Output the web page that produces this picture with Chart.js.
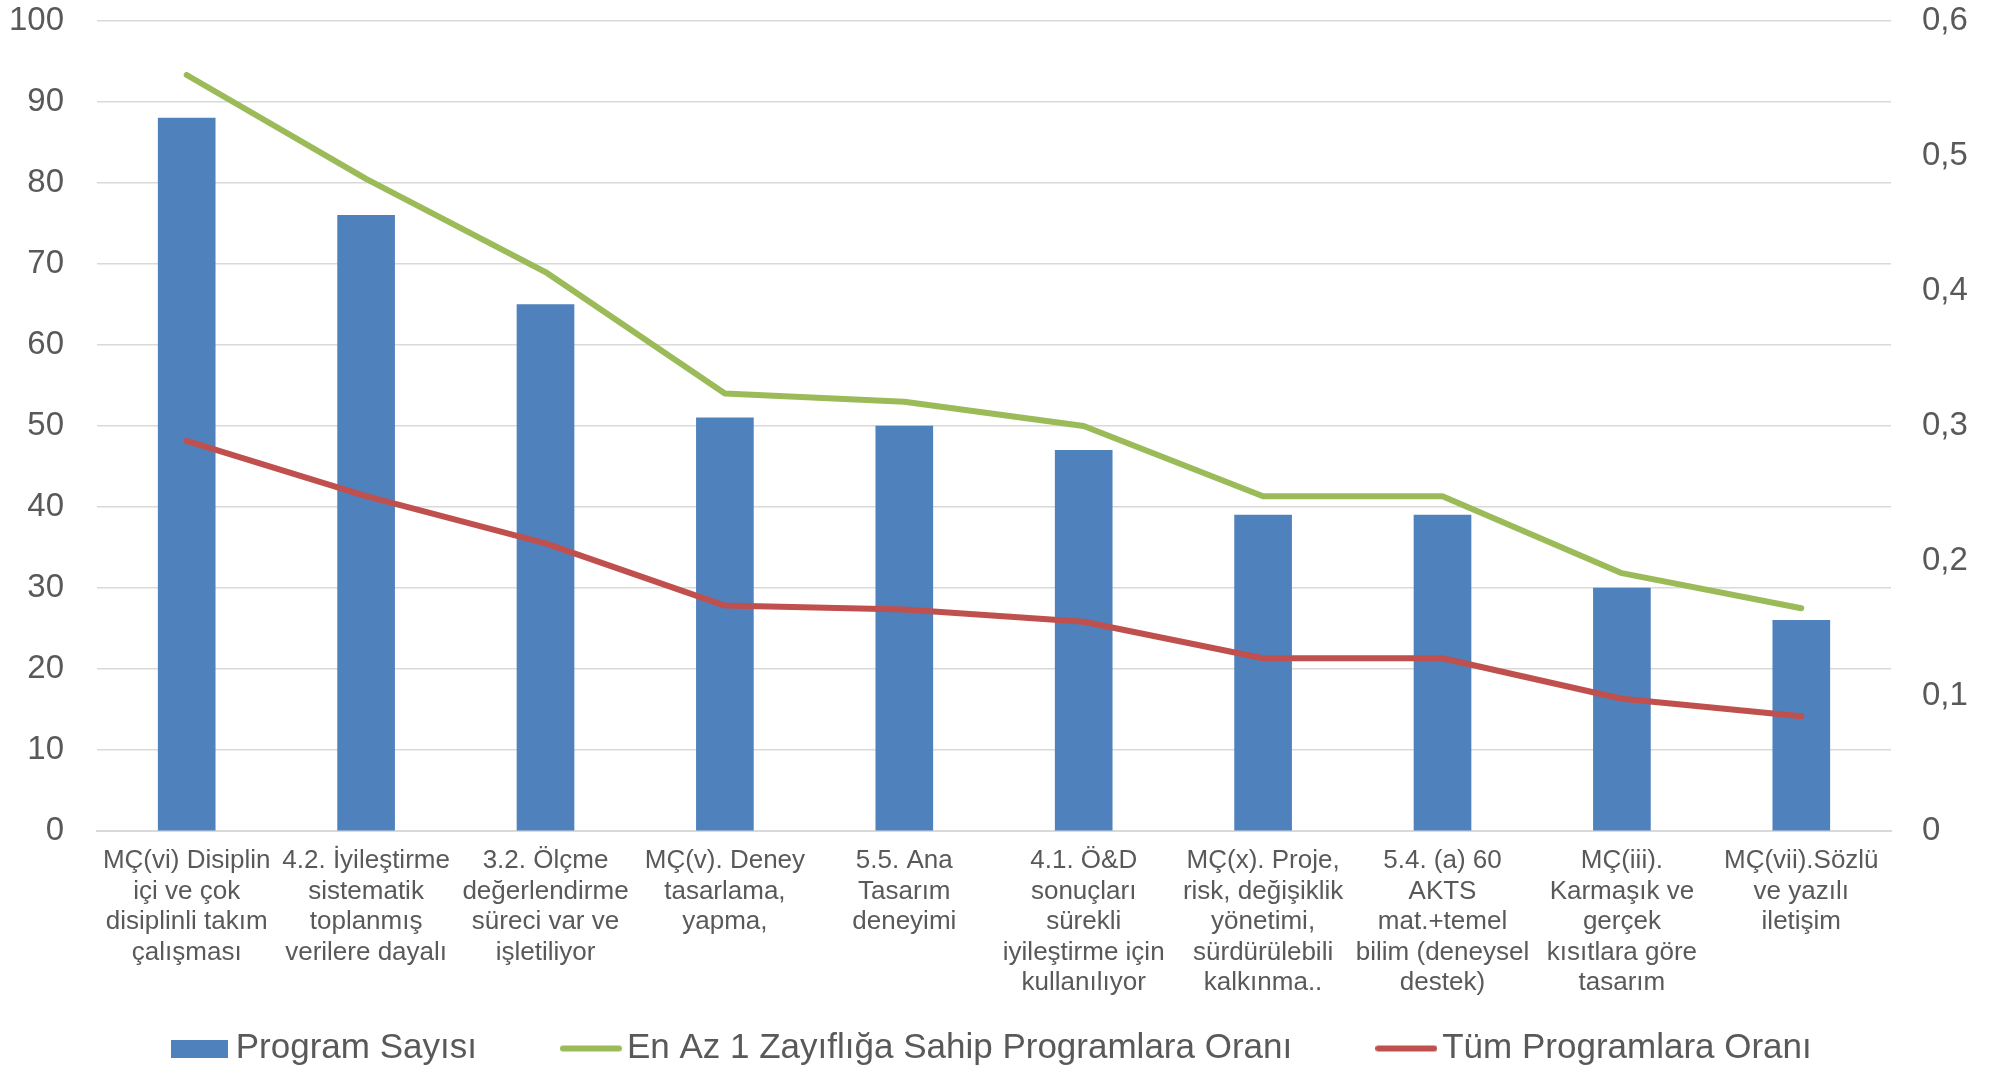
<!DOCTYPE html>
<html>
<head>
<meta charset="utf-8">
<script src="https://cdn.jsdelivr.net/npm/chart.js@4/dist/chart.umd.min.js"></script>
<style>
  html, body { margin: 0; padding: 0; background: #ffffff; }
  #wrap { width: 1993px; height: 1068px; position: relative; }
</style>
</head>
<body>
<div id="wrap"><canvas id="c" width="1993" height="1068"></canvas></div>
<script>
const categories = [
  ["MÇ(vi) Disiplin", "içi ve çok", "disiplinli takım", "çalışması"],
  ["4.2. İyileştirme", "sistematik", "toplanmış", "verilere dayalı"],
  ["3.2. Ölçme", "değerlendirme", "süreci var ve", "işletiliyor"],
  ["MÇ(v). Deney", "tasarlama,", "yapma,"],
  ["5.5. Ana", "Tasarım", "deneyimi"],
  ["4.1. Ö&D", "sonuçları", "sürekli", "iyileştirme için", "kullanılıyor"],
  ["MÇ(x). Proje,", "risk, değişiklik", "yönetimi,", "sürdürülebili", "kalkınma.."],
  ["5.4. (a) 60", "AKTS", "mat.+temel", "bilim (deneysel", "destek)"],
  ["MÇ(iii).", "Karmaşık ve", "gerçek", "kısıtlara göre", "tasarım"],
  ["MÇ(vii).Sözlü", "ve yazılı", "iletişim"]
];
const programSayisi = [88, 76, 65, 51, 50, 47, 39, 39, 30, 26];
const enAz1Orani = [0.560, 0.483, 0.414, 0.324, 0.318, 0.300, 0.248, 0.248, 0.191, 0.165];
const tumOrani = [0.289, 0.248, 0.213, 0.167, 0.164, 0.155, 0.128, 0.128, 0.098, 0.085];
const seriesNames = ["Program Sayısı", "En Az 1 Zayıflığa Sahip Programlara Oranı", "Tüm Programlara Oranı"];
const rightTickLabels = ["0", "0,1", "0,2", "0,3", "0,4", "0,5", "0,6"];

const FONT = "'Liberation Sans', Arial, sans-serif";
const TEXT = "#595959";
const GRID = "#d9d9d9";
const BLUE = '#4F81BD', GREEN = '#9BBB59', RED = '#C0504D';

// legend symbol images
function rectSymbol(color) {
  const c = document.createElement('canvas');
  c.width = 57; c.height = 18;
  const g = c.getContext('2d');
  g.fillStyle = color; g.fillRect(0, 0, 57, 18);
  return c;
}
function lineSymbol(color) {
  const c = document.createElement('canvas');
  c.width = 62; c.height = 8;
  const g = c.getContext('2d');
  g.strokeStyle = color; g.lineWidth = 6; g.lineCap = 'round';
  g.beginPath(); g.moveTo(3, 4); g.lineTo(59, 4); g.stroke();
  return c;
}

new Chart(document.getElementById('c'), {
  data: {
    labels: categories,
    datasets: [
      {
        type: 'bar',
        label: seriesNames[0],
        data: programSayisi,
        backgroundColor: BLUE,
        borderWidth: 0,
        barThickness: 57,
        yAxisID: 'y',
        order: 2
      },
      {
        type: 'line',
        label: seriesNames[1],
        data: enAz1Orani,
        borderColor: GREEN,
        backgroundColor: GREEN,
        borderWidth: 6,
        borderCapStyle: 'round',
        borderJoinStyle: 'round',
        pointRadius: 0,
        pointHoverRadius: 0,
        tension: 0,
        yAxisID: 'y1',
        order: 1
      },
      {
        type: 'line',
        label: seriesNames[2],
        data: tumOrani,
        borderColor: RED,
        backgroundColor: RED,
        borderWidth: 6,
        borderCapStyle: 'round',
        borderJoinStyle: 'round',
        pointRadius: 0,
        pointHoverRadius: 0,
        tension: 0,
        yAxisID: 'y1',
        order: 0
      }
    ]
  },
  options: {
    responsive: false,
    animation: false,
    layout: { padding: { top: 0, bottom: -8, left: 0, right: 0 } },
    plugins: {
      tooltip: { enabled: false },
      legend: {
        position: 'bottom',
        labels: {
          color: TEXT,
          font: { family: FONT, size: 35 },
          usePointStyle: true,
          pointStyleWidth: 37,
          boxHeight: 18,
          padding: 95.5,
          sort: (a, b) => a.datasetIndex - b.datasetIndex,
          generateLabels: (chart) => {
            const items = Chart.defaults.plugins.legend.labels.generateLabels(chart);
            items.forEach(it => {
              const ds = chart.data.datasets[it.datasetIndex];
              if (ds.type === 'bar') {
                it.pointStyle = rectSymbol(ds.backgroundColor);
              } else {
                it.pointStyle = lineSymbol(ds.borderColor);
              }
            });
            return items;
          }
        }
      }
    },
    scales: {
      x: {
        grid: { display: false, drawTicks: false },
        border: { display: true, color: GRID, width: 2 },
        ticks: {
          color: TEXT,
          font: { family: FONT, size: 26, lineHeight: 1.173 },
          padding: 15,
          maxRotation: 0,
          minRotation: 0,
          autoSkip: false
        },
        afterFit: (s) => {
          s.height = 104.5;
          s.paddingLeft = 0;
          s.paddingRight = 0;
          s._computeLabelArea = () => undefined;
        }
      },
      y: {
        position: 'left',
        min: 0,
        max: 100,
        grid: { color: GRID, lineWidth: 1.5, drawTicks: false },
        border: { display: false },
        ticks: {
          stepSize: 10,
          color: TEXT,
          font: { family: FONT, size: 33 },
          padding: 33
        },
        afterFit: (s) => { s.width = 97; s.paddingTop = 21; s.paddingBottom = 0; }
      },
      y1: {
        position: 'right',
        min: 0,
        max: 0.6,
        grid: { display: false, drawTicks: false },
        border: { display: false },
        ticks: {
          stepSize: 0.1,
          color: TEXT,
          font: { family: FONT, size: 33 },
          padding: 31,
          callback: (v, i) => rightTickLabels[i]
        },
        afterFit: (s) => { s.width = 102; s.paddingTop = 21; s.paddingBottom = 0; }
      }
    }
  }
});
</script>
</body>
</html>
